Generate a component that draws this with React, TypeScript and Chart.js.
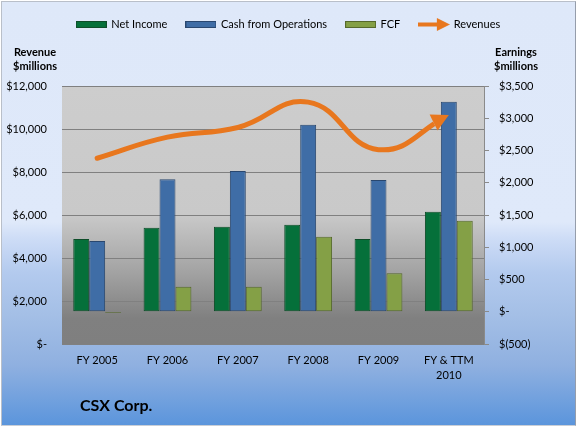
import React, { useEffect, useRef } from 'react';
import { Chart, registerables } from 'chart.js';

Chart.register(...registerables);

// ---- data ----
const categories: (string | string[])[] = ['FY 2005', 'FY 2006', 'FY 2007', 'FY 2008', 'FY 2009', ['FY & TTM', '2010']];
const netIncome = [1128, 1303, 1319, 1350, 1128, 1551];
const cashFromOperations = [1097, 2054, 2182, 2900, 2043, 3257];
const freeCashFlow = [-20, 388, 388, 1163, 596, 1411];
const revenues = [8640, 9620, 10070, 11250, 9040, 10650];

const revenueAxisMin = 0;
const revenueAxisMax = 12000;
const revenueAxisStep = 2000;
const earningsAxisMin = -500;
const earningsAxisMax = 3500;
const earningsAxisStep = 500;

const seriesNames = ['Net Income', 'Cash from Operations', 'FCF', 'Revenues'];

// ---- styles ----
const FONT = 'Lato, "DejaVu Sans", sans-serif';
const colors = {
  ni: '#05703a',
  niBorder: '#0e4d29',
  cfo: '#3f6da6',
  cfoBorder: '#29476f',
  fcf: '#84a046',
  fcfBorder: '#56692c',
  rev: '#e8771e',
};
const LINE_INDEX = 3;

function money(v: number): string {
  if (v === 0) return '$-';
  const s = Math.abs(v).toLocaleString('en-US');
  return v < 0 ? `$(${s})` : `$${s}`;
}

function barIcon(fill: string, stroke: string): HTMLCanvasElement {
  const c = document.createElement('canvas');
  c.width = 31;
  c.height = 7;
  const g = c.getContext('2d')!;
  g.fillStyle = stroke;
  g.fillRect(0, 0, 31, 7);
  g.fillStyle = fill;
  g.fillRect(1, 1, 29, 5);
  return c;
}

function arrowIcon(color: string): HTMLCanvasElement {
  const c = document.createElement('canvas');
  c.width = 32;
  c.height = 13;
  const g = c.getContext('2d')!;
  g.fillStyle = color;
  g.fillRect(0, 4.5, 21, 4);
  g.beginPath();
  g.moveTo(19, 0);
  g.lineTo(32, 6.5);
  g.lineTo(19, 13);
  g.closePath();
  g.fill();
  return c;
}

function arrowGeometry(chart: any) {
  const meta = chart.getDatasetMeta(LINE_INDEX);
  const pts = meta && meta.data;
  if (!pts || pts.length < 2) return null;
  const last = pts[pts.length - 1];
  const prev = pts[pts.length - 2];
  let fx = typeof last.cp1x === 'number' ? last.cp1x : prev.x;
  let fy = typeof last.cp1y === 'number' ? last.cp1y : prev.y;
  if (Math.hypot(last.x - fx, last.y - fy) < 0.5) {
    fx = prev.x;
    fy = prev.y;
  }
  const len = Math.hypot(last.x - fx, last.y - fy) || 1;
  const dx = (last.x - fx) / len;
  const dy = (last.y - fy) / len;
  const L = 17;
  return { tx: last.x, ty: last.y, bx: last.x - dx * L, by: last.y - dy * L, dx, dy };
}

const decorPlugin = {
  id: 'decor',
  beforeDraw(chart: any) {
    const { ctx, chartArea: a } = chart;
    if (!a) return;
    const g = ctx.createLinearGradient(0, a.top, 0, a.bottom);
    g.addColorStop(0, '#cdcdcd');
    g.addColorStop(0.5, '#c9c9c9');
    g.addColorStop(0.72, '#a3a3a3');
    g.addColorStop(0.9, '#808080');
    g.addColorStop(1, '#7f7f7f');
    ctx.save();
    ctx.fillStyle = g;
    ctx.fillRect(a.left, a.top, a.right - a.left, a.bottom - a.top);
    ctx.restore();
  },
  beforeDatasetDraw(chart: any, args: any) {
    if (args.index !== LINE_INDEX) return;
    const geo = arrowGeometry(chart);
    const ctx = chart.ctx;
    ctx.save();
    if (!geo) return;
    const { bx, by, dx, dy } = geo;
    const px = -dy;
    const py = dx;
    const R = 3000;
    ctx.beginPath();
    ctx.moveTo(bx + px * R, by + py * R);
    ctx.lineTo(bx - px * R, by - py * R);
    ctx.lineTo(bx - px * R - dx * R, by - py * R - dy * R);
    ctx.lineTo(bx + px * R - dx * R, by + py * R - dy * R);
    ctx.closePath();
    ctx.clip();
  },
  afterDatasetDraw(chart: any, args: any) {
    if (args.index !== LINE_INDEX) return;
    const ctx = chart.ctx;
    ctx.restore();
    const geo = arrowGeometry(chart);
    if (!geo) return;
    const { tx, ty, bx, by, dx, dy } = geo;
    const px = -dy;
    const py = dx;
    const W = 18;
    ctx.save();
    ctx.fillStyle = colors.rev;
    ctx.beginPath();
    ctx.moveTo(tx, ty);
    ctx.lineTo(bx + px * W / 2, by + py * W / 2);
    ctx.lineTo(bx - px * W / 2, by - py * W / 2);
    ctx.closePath();
    ctx.fill();
    ctx.restore();
  },
  afterDraw(chart: any) {
    const ctx = chart.ctx;
    ctx.save();
    ctx.fillStyle = '#000';
    ctx.textBaseline = 'middle';
    ctx.textAlign = 'center';
    ctx.font = `bold 11px ${FONT}`;
    ctx.fillText('Revenue', 35, 52);
    ctx.fillText('$millions', 35, 66.5);
    ctx.fillText('Earnings', 516, 52);
    ctx.fillText('$millions', 516, 66.5);
    ctx.textAlign = 'left';
    ctx.font = `bold 16px ${FONT}`;
    ctx.fillText('CSX Corp.', 80, 406);
    ctx.restore();
  },
};

export default function App() {
  const ref = useRef<HTMLCanvasElement | null>(null);

  useEffect(() => {
    document.body.style.margin = '0';
    const canvas = ref.current;
    if (!canvas) return;
    Chart.defaults.font.family = FONT;
    Chart.defaults.font.size = 11;
    Chart.defaults.color = '#000';

    const icons = [
      barIcon(colors.ni, colors.niBorder),
      barIcon(colors.cfo, colors.cfoBorder),
      barIcon(colors.fcf, colors.fcfBorder),
      arrowIcon(colors.rev),
    ];

    const barCommon = {
      type: 'bar' as const,
      yAxisID: 'y1',
      xAxisID: 'x',
      borderWidth: 1,
      borderSkipped: false as const,
      categoryPercentage: 0.68,
      barPercentage: 1.0,
      order: 1,
    };

    const chart = new Chart(canvas, {
      data: {
        labels: categories,
        datasets: [
          { ...barCommon, label: seriesNames[0], data: netIncome, backgroundColor: colors.ni, borderColor: colors.niBorder },
          { ...barCommon, label: seriesNames[1], data: cashFromOperations, backgroundColor: colors.cfo, borderColor: colors.cfoBorder },
          { ...barCommon, label: seriesNames[2], data: freeCashFlow, backgroundColor: colors.fcf, borderColor: colors.fcfBorder },
          {
            type: 'line' as const,
            label: seriesNames[3],
            data: revenues,
            yAxisID: 'y',
            xAxisID: 'x',
            borderColor: colors.rev,
            backgroundColor: colors.rev,
            borderWidth: 5,
            borderCapStyle: 'round' as const,
            pointRadius: 0,
            pointHoverRadius: 0,
            tension: 0.45,
            fill: false,
            order: 0,
          },
        ],
      } as any,
      options: {
        responsive: false,
        animation: false,
        events: [],
        layout: { padding: { top: 0, left: 0, right: 0, bottom: 0 } },
        plugins: {
          tooltip: { enabled: false },
          legend: {
            display: true,
            position: 'top',
            labels: {
              usePointStyle: true,
              pointStyleWidth: 29,
              padding: 19,
              font: { size: 11, family: FONT },
              color: '#000',
              generateLabels: (c: any) =>
                c.data.datasets.map((ds: any, i: number) => ({
                  text: ds.label,
                  pointStyle: icons[i],
                  fillStyle: 'rgba(0,0,0,0)',
                  strokeStyle: 'rgba(0,0,0,0)',
                  lineWidth: 0,
                  hidden: false,
                  datasetIndex: i,
                  fontColor: '#000',
                })),
            },
          },
        },
        scales: {
          topPad: {
            type: 'category',
            position: 'top',
            display: true,
            labels: [''],
            grid: { display: false, drawTicks: false },
            border: { display: false },
            ticks: { display: false },
            afterFit: (s: any) => {
              const lh = s.chart.legend ? s.chart.legend.height : 0;
              s.height = Math.max(0, 86 - lh);
            },
          },
          x: {
            type: 'category',
            position: 'bottom',
            offset: true,
            grid: { display: false, drawTicks: false },
            border: { display: false },
            ticks: {
              padding: 8,
              maxRotation: 0,
              autoSkip: false,
              color: '#000',
              font: { size: 11, family: FONT, lineHeight: 1.45 },
            },
            afterFit: (s: any) => {
              s.height = 83;
            },
          },
          y: {
            type: 'linear',
            position: 'left',
            min: revenueAxisMin,
            max: revenueAxisMax,
            grid: { color: '#808080', lineWidth: 1, drawTicks: false },
            border: { display: false },
            ticks: {
              stepSize: revenueAxisStep,
              padding: 15,
              color: '#000',
              font: { size: 11, family: FONT },
              callback: (v: any) => money(Number(v)),
            },
            afterFit: (s: any) => {
              s.width = 62;
            },
          },
          y1: {
            type: 'linear',
            position: 'right',
            min: earningsAxisMin,
            max: earningsAxisMax,
            grid: { drawOnChartArea: false, drawTicks: true, tickLength: 5, color: '#8a8a8a' },
            border: { display: true, color: '#8a8a8a', width: 1 },
            ticks: {
              stepSize: earningsAxisStep,
              padding: 10,
              color: '#000',
              font: { size: 11, family: FONT },
              callback: (v: any) => money(Number(v)),
            },
            afterFit: (s: any) => {
              s.width = 93;
            },
          },
        },
      } as any,
      plugins: [decorPlugin],
    });

    return () => {
      chart.destroy();
    };
  }, []);

  return (
    <div style={{ position: 'relative', width: 577, height: 427, background: '#fff', overflow: 'hidden' }}>
      <div
        style={{
          position: 'absolute',
          left: 1,
          top: 1,
          width: 575,
          height: 425,
          boxSizing: 'border-box',
          border: '1px solid #b9bfc9',
          borderRightColor: '#959dab',
          borderBottomColor: '#c9ced6',
          background:
            'linear-gradient(180deg, #dee8f9 0%, #dfe9fa 52%, #cddcf6 56%, #b3caee 64%, #a4bfe6 74%, #8fb0e0 86%, #5b95dc 100%)',
        }}
      />
      <canvas ref={ref} width={577} height={427} style={{ position: 'absolute', left: 0, top: 0 }} />
    </div>
  );
}
